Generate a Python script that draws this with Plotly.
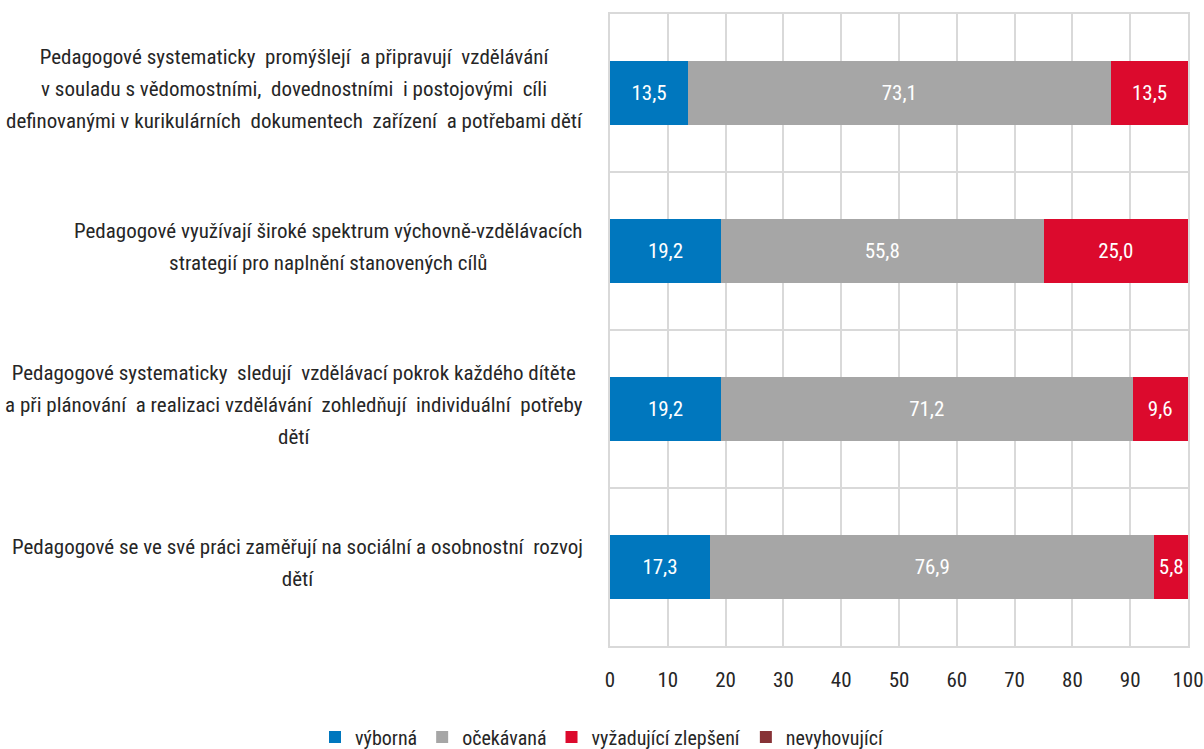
import plotly.graph_objects as go

categories = [
    "Pedagogové systematicky  promýšlejí  a připravují  vzdělávání<br>v souladu s vědomostními,  dovednostními  i postojovými  cíli<br>definovanými v kurikulárních  dokumentech  zařízení  a potřebami dětí",
    "Pedagogové využívají široké spektrum výchovně-vzdělávacích<br>strategií pro naplnění stanovených cílů",
    "Pedagogové systematicky  sledují  vzdělávací pokrok každého dítěte<br>a při plánování  a realizaci vzdělávání  zohledňují  individuální  potřeby<br>dětí",
    "Pedagogové se ve své práci zaměřují na sociální a osobnostní  rozvoj<br>dětí",
]
series_names = ["výborná", "očekávaná", "vyžadující zlepšení", "nevyhovující"]
vyborna = [13.5, 19.2, 19.2, 17.3]
ocekavana = [73.1, 55.8, 71.2, 76.9]
vyzadujici = [13.5, 25.0, 9.6, 5.8]
nevyhovujici = [0, 0, 0, 0]
x_ticks = [0, 10, 20, 30, 40, 50, 60, 70, 80, 90, 100]

colors = ["#0077BE", "#A6A6A6", "#DC0A2D", "#873236"]
FONT = "Roboto Condensed, Liberation Sans Narrow, sans-serif"
TXT = "#262626"
GRID = "#D9D9D9"

n = len(categories)
ypos = [n - 1 - i for i in range(n)]

fig = go.Figure()
for name, vals, col in zip(series_names, [vyborna, ocekavana, vyzadujici, nevyhovujici], colors):
    txt = [f"{v:.1f}".replace(".", ",") if v > 0 else "" for v in vals]
    fig.add_trace(go.Bar(
        y=ypos, x=vals, name=name, orientation="h",
        marker=dict(color=col, line=dict(width=0)),
        text=txt, textposition="inside", insidetextanchor="middle",
        textangle=0, constraintext="none",
        textfont=dict(color="white", size=21, family=FONT),
        hoverinfo="x+name",
    ))

for cat, y in zip(categories, ypos):
    lines = cat.split("<br>")
    styled = "<br>".join(f'<span style="font-size:21px">{ln}</span>' for ln in lines)
    fig.add_annotation(
        x=0, xref="paper", y=y, yref="y", text=styled, showarrow=False,
        xanchor="right", yanchor="middle", xshift=-25, yshift=4, align="center",
        font=dict(size=24.5, family=FONT, color=TXT),
    )

fig.update_layout(
    barmode="stack", bargap=0.6,
    width=1204, height=749,
    margin=dict(l=610, r=16, t=14, b=103, autoexpand=False),
    plot_bgcolor="white", paper_bgcolor="white",
    font=dict(family=FONT, size=21, color=TXT),
    separators=", ",
    showlegend=True,
    legend=dict(orientation="h", xref="container", x=0.5, xanchor="center",
                yref="paper", y=-0.144, yanchor="middle",
                font=dict(size=20, family=FONT, color=TXT), itemwidth=30,
                traceorder="normal"),
    xaxis=dict(range=[0, 100], tickvals=x_ticks, showgrid=True, gridcolor=GRID,
               gridwidth=1.5, zeroline=False, showline=True, linecolor=GRID,
               linewidth=1.5, mirror=True, ticks="", ticklabelstandoff=14,
               ticklabeloverflow="allow", automargin=False,
               tickfont=dict(size=21, family=FONT, color=TXT)),
    yaxis=dict(range=[-0.5, n - 0.5], tickvals=ypos, automargin=False,
               showticklabels=False, showgrid=False, zeroline=False, showline=True,
               linecolor=GRID, linewidth=1.5, mirror=True,
               minor=dict(tickvals=[i - 0.5 for i in range(n + 1)], showgrid=True,
                          gridcolor=GRID, gridwidth=1.5, ticks="")),
)

fig.write_html("out.html", config={"displayModeBar": False},
               post_script="document.body.style.margin='0';document.body.style.overflow='hidden';")
